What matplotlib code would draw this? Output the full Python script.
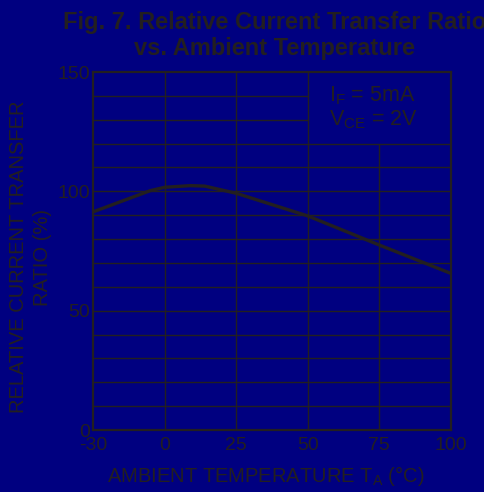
#!/usr/bin/env python3

import numpy as np
import matplotlib
matplotlib.use('Agg')
import matplotlib.pyplot as plt

# Relative CTR curve read at ambient temperatures (deg C)
temp_c = [-30, -6, 0, 9, 14, 25, 50, 75, 100]
ctr_pct = [91.4, 100.3, 101.7, 102.4, 102.2, 99.2, 89.7, 77.5, 65.6]

# x axis ticks are evenly spaced even though the steps are not
x_ticks = [-30, 0, 25, 50, 75, 100]
y_ticks = [0, 50, 100, 150]

BG = '#000080'
INK = '#231f20'

plt.rcParams['font.family'] = ['Liberation Sans', 'DejaVu Sans']
plt.rcParams['mathtext.fontset'] = 'custom'
plt.rcParams['mathtext.rm'] = 'Liberation Sans'
plt.rcParams['mathtext.default'] = 'regular'


def to_pos(t):
    return np.interp(t, x_ticks, np.arange(len(x_ticks)))


def main():
    fig = plt.figure(figsize=(4.85, 4.92), dpi=100, facecolor=BG)
    ax = fig.add_axes([0.1918, 0.126, 0.738, 0.7276], facecolor=BG)

    xmax = len(x_ticks) - 1
    ax.set_xlim(0, xmax)
    ax.set_ylim(0, 150)

    # grid; upper-right corner is left open for the test conditions
    for y in range(10, 150, 10):
        right = 3 if y >= 130 else xmax
        ax.hlines(y, 0, right, color=INK, lw=1.0, zorder=1)
    for i in range(1, xmax):
        top = 120 if i == 4 else 150
        ax.vlines(i, 0, top, color=INK, lw=1.0, zorder=1)

    ax.plot(to_pos(temp_c), ctr_pct, color=INK, lw=2.4, zorder=3,
            solid_joinstyle='round')

    for s in ax.spines.values():
        s.set_color(INK)
        s.set_linewidth(1.6)

    ax.set_xticks(range(len(x_ticks)))
    ax.set_xticklabels([str(t) for t in x_ticks])
    ax.set_yticks(y_ticks)
    ax.tick_params(length=0, labelsize=14, colors=INK)
    ax.tick_params(axis='x', pad=5)
    ax.tick_params(axis='y', pad=2)

    ax.set_xlabel('AMBIENT TEMPERATURE T$_A$ (°C)', fontsize=14.5, color=INK)
    ax.xaxis.set_label_coords(0.483, -0.095)
    ax.set_ylabel('RELATIVE CURRENT TRANSFER\nRATIO (%)', fontsize=14.5,
                  color=INK, linespacing=1.3)
    ax.yaxis.set_label_coords(-0.116, 0.483)

    ax.text(0.66, 0.965, 'I$_F$ = 5mA\nV$_{CE}$ = 2V', transform=ax.transAxes,
            fontsize=15.5, color=INK, va='top', ha='left', linespacing=1.05)

    fig.text(0.567, 0.978, 'Fig. 7. Relative Current Transfer Ratio\n'
             'vs. Ambient Temperature', ha='center', va='top',
             fontsize=17, fontweight='bold', color=INK, linespacing=1.2)

    fig.savefig('out.png', dpi=100, facecolor=BG)


if __name__ == '__main__':
    main()
